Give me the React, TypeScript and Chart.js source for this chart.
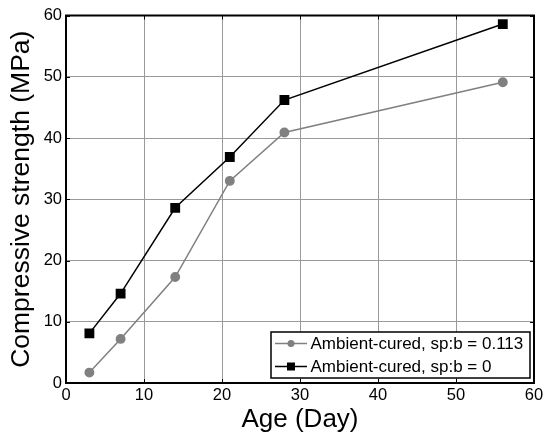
import React, { useEffect, useRef } from "react";
import { Chart, registerables } from "chart.js";

Chart.register(...registerables);

const ages = [3, 7, 14, 21, 28, 56];
const strengthSp0113 = [1.7, 7.2, 17.3, 33.0, 40.9, 49.1];
const strengthSp0 = [8.1, 14.6, 28.6, 36.9, 46.2, 58.6];
const seriesLabels = ["Ambient-cured, sp:b = 0.113", "Ambient-cured, sp:b = 0"];
const xTitle = "Age (Day)";
const yTitle = "Compressive strength (MPa)";

const FONT = "'Liberation Sans', Arial, sans-serif";

const framePlugin = {
  id: "frame",
  afterDraw(chart: any) {
    const { ctx, chartArea } = chart;
    const { left, right, top, bottom } = chartArea;
    const xs = chart.scales.x;
    const ys = chart.scales.y;
    ctx.save();
    ctx.strokeStyle = "#000";
    ctx.lineWidth = 1;
    const tl = 4;
    xs.ticks.forEach((t: any) => {
      const px = Math.round(xs.getPixelForValue(t.value)) + 0.5;
      ctx.beginPath();
      ctx.moveTo(px, bottom);
      ctx.lineTo(px, bottom - tl);
      ctx.moveTo(px, top);
      ctx.lineTo(px, top + tl);
      ctx.stroke();
    });
    ys.ticks.forEach((t: any) => {
      const py = Math.round(ys.getPixelForValue(t.value)) + 0.5;
      ctx.beginPath();
      ctx.moveTo(left, py);
      ctx.lineTo(left + tl, py);
      ctx.moveTo(right, py);
      ctx.lineTo(right - tl, py);
      ctx.stroke();
    });
    ctx.lineWidth = 2;
    ctx.strokeRect(left, top, right - left, bottom - top);

    const lx = 271, ly = 332, lw = 259, lh = 46;
    ctx.fillStyle = "#fff";
    ctx.fillRect(lx, ly, lw, lh);
    ctx.lineWidth = 1.5;
    ctx.strokeStyle = "#000";
    ctx.strokeRect(lx, ly, lw, lh);
    const rows = [343.5, 366.5];
    chart.data.datasets.forEach((ds: any, i: number) => {
      const cy = rows[i];
      ctx.strokeStyle = ds.borderColor;
      ctx.lineWidth = 1.5;
      ctx.beginPath();
      ctx.moveTo(275, cy);
      ctx.lineTo(307, cy);
      ctx.stroke();
      ctx.fillStyle = ds.pointBackgroundColor;
      if (ds.pointStyle === "rect") {
        ctx.fillRect(291 - 4, cy - 4, 8, 8);
      } else {
        ctx.beginPath();
        ctx.arc(291, cy, 3.5, 0, Math.PI * 2);
        ctx.fill();
      }
      ctx.fillStyle = "#000";
      ctx.font = `17px ${FONT}`;
      ctx.textBaseline = "middle";
      ctx.textAlign = "left";
      ctx.fillText(ds.label, 310.5, cy + 1);
    });
    ctx.restore();
  },
};

export default function App() {
  const ref = useRef<HTMLCanvasElement | null>(null);
  useEffect(() => {
    if (!ref.current) return;
    const chart = new Chart(ref.current, {
      type: "line",
      data: {
        datasets: [
          {
            label: seriesLabels[0],
            data: ages.map((a, i) => ({ x: a, y: strengthSp0113[i] })),
            borderColor: "#808080",
            backgroundColor: "#808080",
            pointBackgroundColor: "#808080",
            pointBorderColor: "#808080",
            pointStyle: "circle",
            pointRadius: 4.2,
            borderWidth: 1.5,
          },
          {
            label: seriesLabels[1],
            data: ages.map((a, i) => ({ x: a, y: strengthSp0[i] })),
            borderColor: "#000000",
            backgroundColor: "#000000",
            pointBackgroundColor: "#000000",
            pointBorderColor: "#000000",
            pointStyle: "rect",
            pointRadius: 5.9,
            borderWidth: 1.5,
          },
        ],
      },
      options: {
        animation: false,
        responsive: false,
        devicePixelRatio: 1,
        layout: { padding: { top: 15.5, right: 9, left: 0, bottom: 0 } },
        plugins: {
          legend: { display: false },
          tooltip: { enabled: false },
        },
        scales: {
          x: {
            type: "linear",
            min: 0,
            max: 60,
            border: { display: false },
            grid: { color: "#9a9a9a", lineWidth: 1, drawTicks: false },
            ticks: {
              stepSize: 10,
              padding: 3,
              color: "#000",
              font: { family: FONT, size: 16.5 },
              maxRotation: 0,
            },
            title: {
              display: true,
              text: xTitle,
              color: "#000",
              font: { family: FONT, size: 26 },
              padding: { top: 0, bottom: 1 },
            },
            afterFit: (s: any) => {
              s.height = 53;
              s.paddingRight = 0;
              s.paddingLeft = 0;
            },
          },
          y: {
            type: "linear",
            min: 0,
            max: 60,
            border: { display: false },
            grid: { color: "#9a9a9a", lineWidth: 1, drawTicks: false },
            ticks: {
              stepSize: 10,
              padding: 4,
              color: "#000",
              font: { family: FONT, size: 16.5 },
            },
            title: {
              display: true,
              text: yTitle,
              color: "#000",
              font: { family: FONT, size: 26.5 },
              padding: { top: 6, bottom: 0 },
            },
            afterFit: (s: any) => {
              s.width = 66;
              s.paddingTop = 0;
              s.paddingBottom = 0;
            },
          },
        },
      },
      plugins: [framePlugin],
    });
    return () => chart.destroy();
  }, []);
  return (
    <div style={{ position: "fixed", left: 0, top: 0, width: 543, height: 436, background: "#fff" }}>
      <canvas ref={ref} width={543} height={436} />
    </div>
  );
}
